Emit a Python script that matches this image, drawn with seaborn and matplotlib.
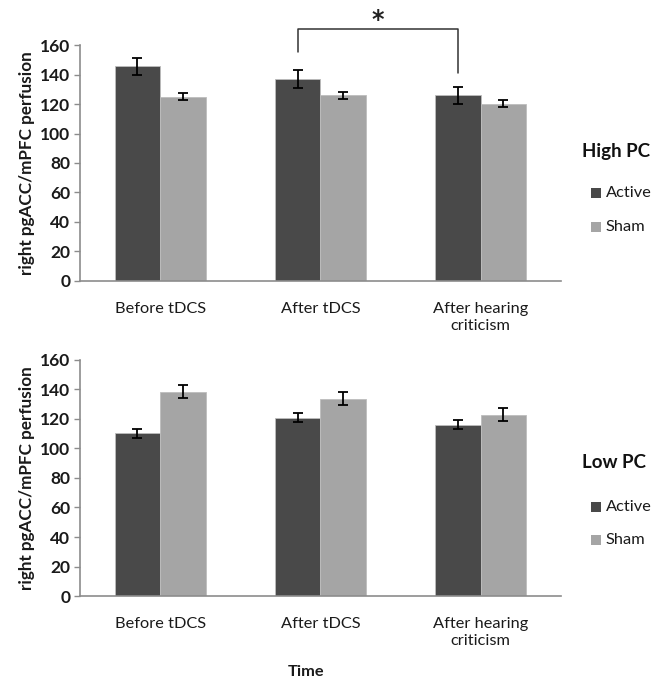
import matplotlib
matplotlib.use("Agg")
import matplotlib.pyplot as plt
import seaborn as sns
import pandas as pd
import numpy as np
from matplotlib.patches import Rectangle

times = ["Before tDCS", "After tDCS", "After hearing\ncriticism"]
conditions = ["Active", "Sham"]

high_active = [145.5, 137.0, 126.0]
high_active_err = [5.5, 6.0, 5.8]
high_sham = [125.0, 126.0, 120.3]
high_sham_err = [2.3, 2.3, 2.3]

low_active = [110.2, 121.0, 116.1]
low_active_err = [3.0, 3.2, 3.0]
low_sham = [138.6, 133.8, 123.0]
low_sham_err = [4.5, 4.5, 4.5]

sns.set_theme(style="white")
plt.rcParams['font.family'] = ['Lato', 'DejaVu Sans']

colors = {"Active": "#494949", "Sham": "#a5a5a5"}
axis_col = "#8c8c8c"
txt_col = "#1a1a1a"

W, H = 656, 681
fig = plt.figure(figsize=(6.56, 6.81), dpi=100)
ax1 = fig.add_axes([0.122, 0.5874, 0.733, 0.3465])
ax2 = fig.add_axes([0.122, 0.1248, 0.733, 0.3466])


def fx(px):
    return px / W


def fy(py):
    return 1 - py / H


def draw(ax, act, act_err, sham, sham_err, title, y_title, y_act, y_sham):
    df = pd.DataFrame({
        "Time": times * 2,
        "Condition": ["Active"] * 3 + ["Sham"] * 3,
        "Value": act + sham,
        "Err": act_err + sham_err,
    })
    sns.barplot(data=df, x="Time", y="Value", hue="Condition", order=times,
                hue_order=conditions, palette=colors, width=0.566, gap=0,
                errorbar=None, edgecolor="#bdbdbd", linewidth=0.6, ax=ax,
                legend=False)
    for cont, cond in zip(ax.containers, conditions):
        sub = df[df.Condition == cond]
        xs = [p.get_x() + p.get_width() / 2 for p in cont.patches]
        ax.errorbar(xs, sub.Value.values, yerr=sub.Err.values, fmt="none",
                    ecolor="black", elinewidth=1.3, capsize=3.5, capthick=1.3)
    ax.set_ylim(0, 160)
    ax.set_xlim(-0.5, 2.5)
    ax.set_yticks(range(0, 161, 20))
    ax.set_xlabel("")
    ax.set_ylabel("right pgACC/mPFC perfusion", fontsize=12.3, fontweight="bold",
                  labelpad=4, color=txt_col)
    for s in ["top", "right"]:
        ax.spines[s].set_visible(False)
    for s in ["left", "bottom"]:
        ax.spines[s].set_color(axis_col)
        ax.spines[s].set_linewidth(1.2)
    ax.tick_params(axis="y", which="both", left=True, length=4, width=1.0,
                   color=axis_col, labelsize=12.5, pad=3)
    ax.tick_params(axis="x", bottom=False, labelsize=11.8, pad=9)
    for lbl in ax.get_yticklabels():
        lbl.set_fontweight("bold")
        lbl.set_color(txt_col)
    for lbl in ax.get_xticklabels():
        lbl.set_color(txt_col)
        lbl.set_linespacing(1.3)
    # legend (drawn manually to match placement)
    fig.text(fx(582), fy(y_title), title, fontsize=13.5, fontweight="bold",
             ha="left", va="center", color="#111111")
    for cond, yy in zip(conditions, [y_act, y_sham]):
        fig.patches.append(Rectangle((fx(591), fy(yy + 5)), fx(10), 10 / H,
                                     transform=fig.transFigure,
                                     facecolor=colors[cond], edgecolor="none"))
        fig.text(fx(606), fy(yy), cond, fontsize=11.8, ha="left", va="center",
                 color=txt_col)
    return df


draw(ax1, high_active, high_active_err, high_sham, high_sham_err,
     "High PC", 152, 193, 227)
draw(ax2, low_active, low_active_err, low_sham, low_sham_err,
     "Low PC", 462, 507, 540)

# significance bracket between Active After tDCS and Active After hearing criticism
cont = ax1.containers[0]
xa = cont.patches[1].get_x() + cont.patches[1].get_width() / 2
xb = cont.patches[2].get_x() + cont.patches[2].get_width() / 2
ax1.plot([xa, xa, xb, xb], [155, 170.6, 170.6, 141.2], color="#333333",
         lw=1.1, clip_on=False)
ax1.text((xa + xb) / 2, 177, "*", ha="center", va="center",
         fontsize=17, fontweight="bold", color="#222222", clip_on=False,
         family="DejaVu Sans")

fig.text(fx(306), fy(672), "Time", ha="center", va="center",
         fontsize=11.8, fontweight="bold", color=txt_col)

fig.savefig("out.png", dpi=100, facecolor="white")
